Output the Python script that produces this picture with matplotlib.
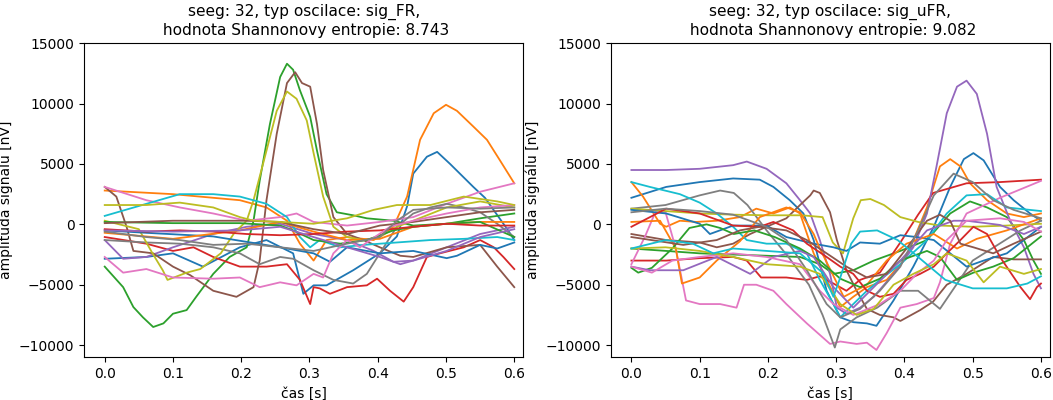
import numpy as np
import matplotlib
matplotlib.use("Agg")
import matplotlib.pyplot as plt

# vybrane oscilace, hodnoty v tisicich nV, cas v s
seeg = 32
entropie_fr = 8.743
entropie_ufr = 9.082

sig_fr = [
    # C0
    [(0, -2.85), (0.061, -2.7), (0.1, -2.4), (0.144, -3.5), (0.198, -1.9), (0.237, -1.3), (0.276, -2.4),
     (0.291, -5.75), (0.306, -5.05), (0.325, -5.05), (0.364, -3.8), (0.403, -2.4), (0.428, -1.0), (0.443, 1.5),
     (0.452, 4.2), (0.472, 5.6), (0.487, 6.0), (0.506, 5.0), (0.540, 3.1), (0.557, 2.2), (0.591, -0.5), (0.6, -1.3)],
    # C1
    [(0, 2.8), (0.1, 2.5), (0.198, 2.0), (0.237, 1.4), (0.267, 0.3), (0.286, -1.6), (0.306, -3.0), (0.325, -1.3),
     (0.355, -1.05), (0.394, -1.3), (0.423, -0.2), (0.443, 2.3), (0.462, 7.0), (0.482, 9.2), (0.5, 9.9),
     (0.516, 9.4), (0.540, 8.1), (0.560, 7.0), (0.579, 5.3), (0.6, 3.4)],
    # C2
    [(0, -3.5), (0.027, -5.2), (0.042, -6.85), (0.056, -7.7), (0.071, -8.5), (0.086, -8.2), (0.1, -7.4),
     (0.120, -7.1), (0.134, -6.0), (0.159, -4.1), (0.183, -2.7), (0.208, -1.9), (0.218, 0.3), (0.227, 3.6),
     (0.242, 8.3), (0.257, 12.2), (0.267, 13.3), (0.276, 12.8), (0.286, 11.1), (0.301, 8.9), (0.311, 6.1),
     (0.325, 2.5), (0.340, 1.0), (0.364, 0.75), (0.384, 0.5), (0.423, 0.3), (0.452, -0.1), (0.501, 0.05),
     (0.550, 0.5), (0.6, 0.9)],
    # C3
    [(0, -1.05), (0.061, -1.6), (0.1, -2.2), (0.130, -1.9), (0.159, -2.7), (0.198, -3.5), (0.237, -3.5),
     (0.267, -3.3), (0.286, -4.6), (0.301, -6.6), (0.306, -5.2), (0.315, -5.3), (0.330, -5.75), (0.355, -5.2),
     (0.384, -5.05), (0.399, -4.5), (0.418, -5.5), (0.438, -6.4), (0.452, -5.2), (0.472, -2.7), (0.491, -2.4),
     (0.526, -1.9), (0.550, -1.3), (0.570, -1.9), (0.584, -2.7), (0.6, -3.7)],
    # C4
    [(0, -1.3), (0.027, -2.85), (0.061, -2.7), (0.1, -1.9), (0.159, -0.8), (0.208, -0.2), (0.257, 0.05),
     (0.306, -0.8), (0.355, -1.3), (0.394, -2.2), (0.423, -3.1), (0.452, -3.0), (0.501, -1.9), (0.550, -0.8),
     (0.6, -0.2)],
    # C5
    [(0, 3.1), (0.017, 2.3), (0.032, -0.2), (0.042, -2.2), (0.071, -2.4), (0.1, -3.5), (0.125, -4.2),
     (0.159, -5.5), (0.193, -6.0), (0.218, -5.2), (0.227, -3.0), (0.237, 2.0), (0.252, 7.5), (0.267, 11.7),
     (0.279, 12.6), (0.289, 11.7), (0.301, 11.4), (0.311, 8.3), (0.320, 4.5), (0.335, 0.6), (0.355, -0.8),
     (0.379, -1.3), (0.403, -1.9), (0.433, -2.6), (0.452, -2.7), (0.501, -1.9), (0.550, -1.7), (0.575, -3.5),
     (0.6, -5.2)],
    # C6
    [(0, 3.1), (0.061, 2.0), (0.110, 1.4), (0.159, 0.9), (0.208, 0.3), (0.257, 0.6), (0.281, 0.9),
     (0.306, 0.2), (0.355, -0.1), (0.403, 0.2), (0.452, 0.6), (0.501, 1.7), (0.550, 2.7), (0.6, 3.4)],
    # C7
    [(0, -1.3), (0.061, -1.5), (0.110, -1.6), (0.159, -1.9), (0.198, -2.4), (0.227, -3.3), (0.257, -2.7),
     (0.276, -2.85), (0.306, -3.8), (0.335, -4.6), (0.364, -4.9), (0.384, -4.1), (0.403, -2.4), (0.428, -0.2),
     (0.452, 0.9), (0.477, 1.4), (0.501, 1.7), (0.526, 1.4), (0.550, 1.0), (0.575, 0.05), (0.6, -1.05)],
    # C8
    [(0, 0.3), (0.05, -0.4), (0.07, -2.4), (0.085, -3.8), (0.092, -4.6), (0.12, -4.0), (0.14, -3.7),
     (0.17, -2.4), (0.19, -0.7), (0.208, 0.3), (0.218, 2.0), (0.237, 6.1), (0.252, 9.4), (0.267, 11.0),
     (0.281, 10.4), (0.296, 8.6), (0.306, 5.9), (0.320, 2.3), (0.335, -0.2), (0.355, -1.05), (0.379, -1.3),
     (0.403, -1.05), (0.428, -0.2), (0.452, 0.3), (0.501, 1.4), (0.550, 1.9), (0.6, 1.4)],
    # C9
    [(0, 0.7), (0.061, 1.7), (0.110, 2.5), (0.159, 2.5), (0.198, 2.3), (0.237, 1.7), (0.267, 0.6),
     (0.286, -1.05), (0.301, -1.9), (0.315, -1.3), (0.345, -1.9), (0.379, -1.7), (0.428, -1.5), (0.477, -1.3),
     (0.526, -1.2), (0.575, -1.05), (0.6, -1.3)],
    # C0
    [(0, -0.5), (0.061, -0.7), (0.159, -1.0), (0.257, -1.9), (0.306, -2.4), (0.330, -3.1), (0.355, -1.9),
     (0.403, -2.4), (0.452, -2.2), (0.501, -2.8), (0.516, -2.6), (0.55, -1.7), (0.575, -2.0), (0.6, -1.5)],
    # C1
    [(0, -0.7), (0.1, -1.2), (0.198, -0.5), (0.257, 0.2), (0.306, -0.6), (0.355, -1.3), (0.403, -1.2),
     (0.452, -0.2), (0.501, 0.05), (0.55, 0.2), (0.6, 0.2)],
    # C2
    [(0, 0.2), (0.1, 0.1), (0.198, 0.1), (0.257, -0.1), (0.276, -0.5), (0.306, -1.3), (0.345, -1.6),
     (0.384, -1.3), (0.423, -0.5), (0.452, -0.2), (0.501, 0.05), (0.55, 0.2), (0.6, -1.05)],
    # C3
    [(0, -0.4), (0.061, -0.6), (0.110, -0.5), (0.159, -0.6), (0.208, -0.8), (0.257, -0.9), (0.306, -0.8),
     (0.355, -0.6), (0.403, -0.5), (0.452, -0.2), (0.501, 0.05), (0.55, -0.1), (0.6, -0.1)],
    # C4
    [(0, -0.5), (0.1, -0.6), (0.198, -0.5), (0.257, -0.2), (0.306, -1.05), (0.355, -1.9), (0.403, -2.7),
     (0.433, -3.3), (0.452, -3.0), (0.501, -2.2), (0.550, -1.05), (0.6, -0.4)],
    # C5
    [(0, 0.1), (0.1, 0.3), (0.208, 0.3), (0.257, 0.2), (0.306, -0.4), (0.355, -0.8), (0.403, -0.1),
     (0.452, 0.2), (0.501, 0.6), (0.55, 1.0), (0.6, 1.2)],
    # C6
    [(0, -2.7), (0.027, -4.0), (0.061, -3.7), (0.1, -4.4), (0.159, -4.5), (0.198, -4.4), (0.227, -5.2),
     (0.257, -4.8), (0.281, -5.05), (0.306, -4.1), (0.320, -4.4), (0.335, -2.4), (0.355, -1.3), (0.374, -1.9),
     (0.389, -1.3), (0.418, -0.2), (0.452, 0.3), (0.501, 0.9), (0.550, 1.4), (0.6, 1.6)],
    # C7
    [(0, -0.6), (0.061, -1.05), (0.110, -1.3), (0.159, -1.7), (0.208, -1.6), (0.257, -1.9), (0.306, -2.2),
     (0.355, -1.6), (0.403, -1.05), (0.428, 0.3), (0.452, 1.2), (0.501, 1.4), (0.550, 1.3), (0.6, 1.4)],
    # C8
    [(0, 1.6), (0.061, 1.6), (0.110, 1.8), (0.159, 1.4), (0.198, 0.6), (0.218, 0.3), (0.257, 0.2),
     (0.306, 0.05), (0.355, 0.5), (0.394, 1.2), (0.428, 1.6), (0.477, 1.6), (0.526, 2.3), (0.575, 1.9),
     (0.6, 1.6)],
]

sig_ufr = [
    # C0
    [(0, 2.2), (0.051, 3.1), (0.100, 3.5), (0.149, 3.8), (0.188, 3.7), (0.208, 3.1), (0.232, 2.0),
     (0.252, 0.9), (0.267, -1.3), (0.286, -5.5), (0.306, -7.7), (0.325, -8.1), (0.345, -8.2), (0.359, -8.4),
     (0.384, -6.3), (0.413, -3.5), (0.443, -0.2), (0.467, 3.1), (0.487, 5.4), (0.501, 5.9), (0.516, 5.3),
     (0.540, 3.1), (0.560, 2.0), (0.584, 0.9), (0.6, 0.3)],
    # C1
    [(0, 3.5), (0.017, 2.3), (0.042, 0.05), (0.051, -0.2), (0.071, 0.3), (0.095, 0.2), (0.125, 0.3),
     (0.159, 0.6), (0.183, 1.3), (0.208, 0.9), (0.232, 1.4), (0.247, 0.9), (0.267, -2.4), (0.286, -4.6),
     (0.306, -6.85), (0.325, -6.0), (0.345, -5.2), (0.374, -4.6), (0.403, -2.7), (0.433, 1.4), (0.452, 4.8),
     (0.467, 5.4), (0.482, 4.8), (0.496, 3.4), (0.521, 2.0), (0.550, 0.9), (0.575, 0.6), (0.6, 0.9)],
    # C2
    [(0, -2.0), (0.051, -2.2), (0.100, -2.4), (0.149, -2.5), (0.198, -2.6), (0.247, -2.7), (0.276, -3.3),
     (0.296, -4.1), (0.325, -3.8), (0.355, -3.0), (0.394, -2.2), (0.433, -1.3), (0.467, 0.9), (0.496, 1.9),
     (0.521, 1.4), (0.550, 0.6), (0.575, -1.3), (0.589, -3.0), (0.6, -4.1)],
    # C3
    [(0, -3.0), (0.051, -3.0), (0.100, -2.8), (0.149, -2.7), (0.169, -3.0), (0.190, -4.4), (0.227, -4.4),
     (0.257, -4.6), (0.276, -4.3), (0.296, -4.9), (0.315, -5.5), (0.335, -4.6), (0.364, -4.0), (0.394, -1.5),
     (0.420, 0.8), (0.442, 2.6), (0.491, 3.4), (0.540, 3.5), (0.6, 3.7)],
    # C4
    [(0, 4.5), (0.051, 4.5), (0.100, 4.6), (0.149, 4.9), (0.169, 5.2), (0.198, 4.6), (0.227, 3.4),
     (0.247, 2.0), (0.262, 0.9), (0.276, -1.3), (0.291, -4.1), (0.301, -6.9), (0.315, -7.4), (0.335, -6.9),
     (0.355, -6.0), (0.384, -4.1), (0.413, -1.9), (0.433, 0.9), (0.447, 4.8), (0.462, 9.2), (0.477, 11.4),
     (0.491, 11.9), (0.506, 10.8), (0.521, 7.5), (0.535, 3.1), (0.555, 0.3), (0.575, -1.9), (0.589, -4.1),
     (0.6, -5.3)],
    # C5
    [(0, -0.8), (0.051, -1.3), (0.100, -1.5), (0.125, -1.9), (0.149, -1.6), (0.174, -0.8), (0.198, -0.2),
     (0.227, 0.5), (0.247, 1.6), (0.262, 2.4), (0.267, 2.8), (0.276, 2.6), (0.291, 1.0), (0.301, -1.3),
     (0.315, -3.8), (0.330, -5.5), (0.345, -7.0), (0.364, -7.5), (0.384, -7.7), (0.394, -8.0), (0.423, -7.1),
     (0.442, -6.4), (0.462, -5.0), (0.491, -4.1), (0.530, -2.7), (0.560, -2.9), (0.6, -2.9)],
    # C6
    [(0, -3.3), (0.02, -1.0), (0.035, 1.0), (0.05, 1.0), (0.065, -2.0), (0.08, -6.3), (0.1, -6.6),
     (0.13, -6.6), (0.154, -6.9), (0.165, -5.0), (0.183, -5.0), (0.208, -5.5), (0.227, -6.6), (0.257, -8.2),
     (0.291, -9.9), (0.306, -9.7), (0.330, -9.9), (0.345, -9.8), (0.359, -10.4), (0.374, -9.0), (0.394, -6.9),
     (0.418, -6.6), (0.443, -6.1), (0.452, -4.8), (0.467, -1.6), (0.491, 0.9), (0.540, 2.2), (0.6, 3.6)],
    # C7
    [(0, 1.3), (0.05, 1.6), (0.1, 2.4), (0.13, 2.8), (0.15, 2.6), (0.17, 1.6), (0.198, -0.5), (0.23, -2.7),
     (0.26, -5.0), (0.28, -7.5), (0.298, -10.2), (0.306, -8.7), (0.33, -7.7), (0.36, -6.9), (0.394, -5.5),
     (0.42, -5.5), (0.452, -7.0), (0.47, -5.5), (0.50, -3.0), (0.531, -1.9), (0.57, -0.5), (0.6, 0.3)],
    # C8
    [(0, 1.3), (0.05, 1.1), (0.1, 0.9), (0.15, 0.8), (0.2, 0.75), (0.25, 0.75), (0.28, 0.6), (0.295, -1.5),
     (0.31, -2.4), (0.325, 0.5), (0.336, 2.0), (0.35, 2.1), (0.37, 1.6), (0.394, 0.6), (0.42, 0.2),
     (0.452, -0.1), (0.5, -0.2), (0.55, -0.1), (0.6, 0.05)],
    # C9
    [(0, 3.5), (0.027, 3.1), (0.071, 2.5), (0.100, 1.8), (0.125, 0.9), (0.149, -0.2), (0.169, -1.3),
     (0.198, -1.6), (0.227, -1.6), (0.257, -2.4), (0.276, -4.6), (0.296, -6.6), (0.306, -7.7), (0.325, -6.6),
     (0.345, -5.5), (0.364, -4.6), (0.394, -3.3), (0.433, -1.3), (0.462, 0.9), (0.491, 2.4), (0.521, 2.5),
     (0.550, 1.4), (0.6, 1.1)],
    # C0
    [(0, 1.2), (0.051, 0.9), (0.100, 0.05), (0.115, -0.8), (0.149, -0.1), (0.198, -0.1), (0.227, -1.05),
     (0.267, -1.6), (0.296, -1.9), (0.315, -2.2), (0.335, -1.5), (0.364, -1.6), (0.394, -0.9), (0.418, -1.05),
     (0.443, -1.3), (0.467, -2.4), (0.491, -3.5), (0.516, -3.0), (0.550, -2.4), (0.6, -0.2)],
    # C1
    [(0, 0.2), (0.042, 0.3), (0.065, -2.0), (0.074, -4.9), (0.1, -4.4), (0.125, -3.0), (0.159, -1.4),
     (0.188, 0.6), (0.227, 1.4), (0.247, 1.0), (0.267, -0.8), (0.276, -2.0), (0.291, -3.7), (0.311, -6.0),
     (0.345, -5.0), (0.374, -3.0), (0.403, -1.6), (0.443, -0.8), (0.477, -2.0), (0.506, -1.2), (0.550, -0.5),
     (0.6, 0.5)],
    # C2
    [(0, -3.6), (0.01, -4.0), (0.03, -3.6), (0.06, -2.0), (0.085, -0.3), (0.11, 0.0), (0.13, -0.3),
     (0.15, -0.8), (0.18, -0.5), (0.21, -1.05), (0.247, -2.0), (0.276, -3.0), (0.306, -4.5), (0.335, -5.2),
     (0.364, -4.5), (0.394, -3.0), (0.433, -2.2), (0.452, -2.7), (0.477, -4.6), (0.501, -4.0), (0.530, -3.5),
     (0.560, -2.8), (0.6, -1.0)],
    # C3
    [(0, -0.2), (0.051, 1.3), (0.100, 0.9), (0.149, -0.1), (0.188, -0.2), (0.208, 0.2), (0.237, -0.5),
     (0.257, -1.6), (0.286, -2.7), (0.306, -3.5), (0.325, -4.1), (0.345, -5.5), (0.364, -6.0), (0.384, -5.75),
     (0.403, -4.6), (0.423, -4.1), (0.443, -3.5), (0.462, -2.4), (0.482, -1.3), (0.501, -0.2), (0.521, -0.8),
     (0.540, -2.7), (0.570, -5.2), (0.584, -6.2), (0.594, -5.2), (0.6, -4.9)],
    # C4
    [(0, -3.5), (0.027, -3.8), (0.076, -3.8), (0.125, -2.7), (0.174, -4.1), (0.208, -2.7), (0.247, -2.2),
     (0.267, -2.7), (0.296, -5.2), (0.325, -6.9), (0.355, -5.2), (0.394, -3.0), (0.433, -0.5), (0.472, 0.3),
     (0.491, 0.3), (0.540, -0.05), (0.575, -0.8), (0.6, -0.2)],
    # C5
    [(0, -1.05), (0.076, -1.7), (0.125, -1.3), (0.159, -0.5), (0.188, -0.2), (0.227, -0.5), (0.257, -1.3),
     (0.286, -2.4), (0.315, -3.5), (0.345, -4.4), (0.374, -4.1), (0.403, -2.0), (0.433, 0.3), (0.452, 0.8),
     (0.467, 0.3), (0.482, -1.6), (0.501, -1.9), (0.530, -2.4), (0.560, -1.6), (0.6, -0.6)],
    # C6
    [(0, -3.5), (0.03, -4.0), (0.06, -3.0), (0.1, -2.7), (0.149, -2.4), (0.198, -2.7), (0.247, -3.3),
     (0.276, -5.5), (0.296, -6.6), (0.325, -7.5), (0.364, -6.6), (0.394, -5.5), (0.418, -4.1), (0.443, -3.0),
     (0.462, -1.3), (0.491, 0.3), (0.540, 0.5), (0.575, 0.2), (0.6, -0.6)],
    # C7
    [(0, 1.0), (0.05, 1.3), (0.1, 1.1), (0.149, 0.8), (0.198, -0.2), (0.227, -1.3), (0.257, -3.8),
     (0.286, -6.6), (0.306, -7.7), (0.335, -7.0), (0.364, -5.5), (0.394, -3.5), (0.420, -0.5), (0.443, 2.4),
     (0.472, 4.2), (0.50, 3.5), (0.53, 2.0), (0.56, 1.2), (0.6, 0.5)],
    # C8
    [(0, -2.0), (0.05, -1.9), (0.1, -2.2), (0.149, -2.7), (0.198, -3.3), (0.247, -3.5), (0.276, -4.1),
     (0.306, -6.6), (0.330, -7.5), (0.355, -7.0), (0.384, -5.0), (0.413, -4.1), (0.443, -3.3), (0.462, -2.4),
     (0.491, -3.0), (0.516, -4.8), (0.540, -3.5), (0.575, -4.1), (0.6, -3.7)],
    # C9
    [(0, -2.0), (0.05, -1.3), (0.09, -1.6), (0.12, -2.4), (0.149, -2.0), (0.198, -2.2), (0.247, -2.4),
     (0.28, -4.0), (0.296, -6.0), (0.306, -4.4), (0.322, -1.6), (0.335, -0.6), (0.36, -0.5), (0.39, -1.3),
     (0.42, -2.7), (0.46, -4.6), (0.50, -5.3), (0.55, -5.3), (0.58, -4.9), (0.6, -4.3)],
]

panely = [("sig_FR", entropie_fr, sig_fr), ("sig_uFR", entropie_ufr, sig_ufr)]

fig, axs = plt.subplots(1, 2, figsize=(10.53, 4), dpi=100)
plt.subplots_adjust(left=0.08, right=0.997, bottom=0.107, top=0.892, wspace=0.2)

for ax, (typ, ent, signaly) in zip(axs, panely):
    for s in signaly:
        t, v = zip(*s)
        ax.plot(t, np.array(v) * 1000, lw=1.3)
    ax.set_title("seeg: %d, typ oscilace: %s,\n hodnota Shannonovy entropie: %.3f" % (seeg, typ, ent),
                 fontsize=11.1)
    ax.set_xlabel("čas [s]")
    ax.set_ylabel("amplituda signálu [nV]")
    ax.set_xlim(-0.03, 0.613)
    ax.set_ylim(-11000, 15000)
    ax.set_yticks([-10000, -5000, 0, 5000, 10000, 15000])

fig.savefig("out.png", dpi=100)
